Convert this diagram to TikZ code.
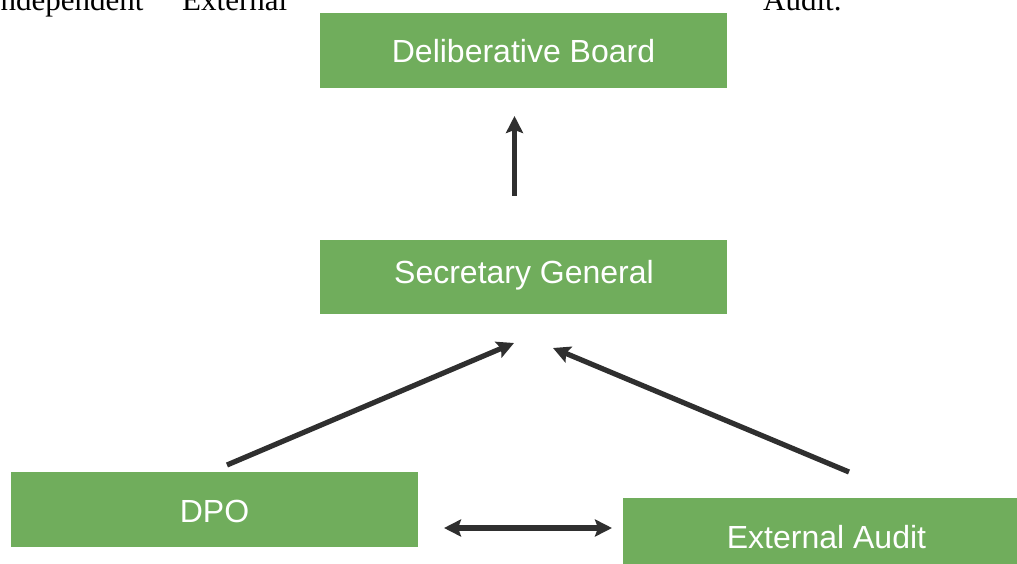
\documentclass[tikz,border=0pt]{standalone}
\usepackage{fontspec}
\setmainfont{Liberation Sans}
\newfontfamily\seriffont{Liberation Serif}
\usetikzlibrary{arrows.meta}
\definecolor{boxgreen}{RGB}{112,173,92}
\definecolor{arrowgray}{RGB}{47,47,47}
\tikzset{
  box/.style={fill=boxgreen, draw=none, minimum width=407pt, minimum height=75pt, inner sep=0pt, outer sep=0pt},
  lbl/.style={text=white, font=\fontsize{32}{38}\selectfont, anchor=base, inner sep=0pt},
  tip/.style={Stealth[length=17pt,width=17pt,inset=3pt]},
  conn/.style={draw=arrowgray, line width=5.2pt, -{Stealth[length=17pt,width=17pt,inset=3pt]}},
  dconn/.style={draw=arrowgray, line width=5.2pt, {Stealth[length=17pt,width=17pt,inset=3pt]}-{Stealth[length=17pt,width=17pt,inset=3pt]}},
  toptext/.style={font=\seriffont\fontsize{31}{36}\selectfont, anchor=base west, inner sep=0pt}
}
\begin{document}
\begin{tikzpicture}[x=1pt,y=-1pt]
\useasboundingbox (0,0) rectangle (1017,564);
\fill[white] (0,0) rectangle (1017,564);
\clip (0,0) rectangle (1017,564);
% clipped text at the top
\node[toptext] (t1) at (-10,11) {Independent};
\node[toptext] (t2) at (182,11) {External};
\node[toptext] (t3) at (763,11) {Audit.};
% boxes
\node[box] (board) at (523.5,50.5) {};
\node[box, minimum height=74pt] (sec) at (523.5,277) {};
\node[box] (dpo) at (214.5,509.5) {};
\node[box] (audit) at (826.5,535) {};
% labels
\node[lbl] (boardt) at (523.5,62.5) {Deliberative Board};
\node[lbl] (sect) at (524,283.5) {Secretary General};
\node[lbl] (dpot) at (214.5,522.5) {DPO};
\node[lbl] (auditt) at (826.5,548) {External Audit};
% arrow end points
\coordinate (vA) at (514.5,196);
\coordinate (vB) at (514.5,116);
\coordinate (lA) at (227,465);
\coordinate (lB) at (514,343);
\coordinate (rA) at (849,472);
\coordinate (rB) at (553,348);
\coordinate (hA) at (444,528);
\coordinate (hB) at (612,528);
% arrows
\draw[conn] (vA) -- (vB);
\draw[conn] (lA) -- (lB);
\draw[conn] (rA) -- (rB);
\draw[dconn] (hA) -- (hB);
\end{tikzpicture}
\end{document}
